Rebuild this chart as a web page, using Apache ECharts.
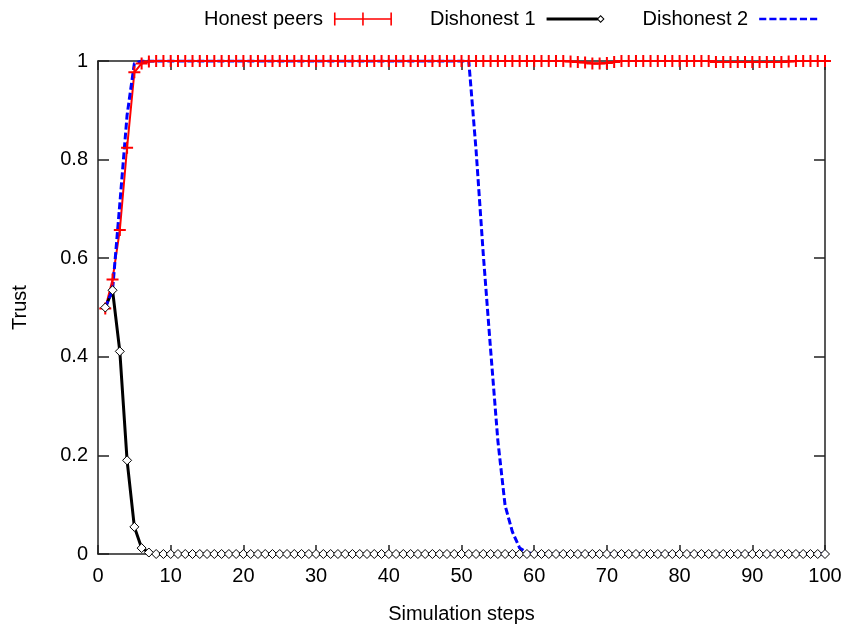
<!DOCTYPE html>
<html>
<head>
    <meta charset="utf-8">
    <title>Trust vs simulation steps</title>
    <script src="https://cdn.jsdelivr.net/npm/echarts@6/dist/echarts.min.js"></script>
    <style>
        body { margin: 0; background: #fff; }
        #main { width: 845px; height: 629px; }
    </style>
</head>
<body>
    <div id="main"></div>

    <script type="text/javascript">
        // trust values per step (step 1 .. 100)
        var honest = [
            0.498, 0.557, 0.657, 0.824, 0.977, 0.995, 0.999, 1, 1, 1,
            1, 1, 1, 1, 1, 1, 1, 1, 1, 1,
            1, 1, 1, 1, 1, 1, 1, 1, 1, 1,
            1, 1, 1, 1, 1, 1, 1, 1, 1, 1,
            1, 1, 1, 1, 1, 1, 1, 1, 1, 1,
            1, 1, 1, 1, 1, 1, 1, 1, 1, 1,
            1, 1, 1, 1, 0.999, 0.998, 0.997, 0.995, 0.995, 0.996,
            0.998, 1, 1, 1, 1, 1, 1, 1, 1, 1,
            1, 1, 1, 1, 0.998, 0.998, 0.998, 0.998, 0.998, 0.998,
            0.998, 0.998, 0.998, 0.998, 0.999, 1, 1, 1, 1, 1
        ];
        var dishonest1 = [
            0.5, 0.535, 0.411, 0.19, 0.055, 0.012, 0.003, 0, 0, 0,
            0, 0, 0, 0, 0, 0, 0, 0, 0, 0,
            0, 0, 0, 0, 0, 0, 0, 0, 0, 0,
            0, 0, 0, 0, 0, 0, 0, 0, 0, 0,
            0, 0, 0, 0, 0, 0, 0, 0, 0, 0,
            0, 0, 0, 0, 0, 0, 0, 0, 0, 0,
            0, 0, 0, 0, 0, 0, 0, 0, 0, 0,
            0, 0, 0, 0, 0, 0, 0, 0, 0, 0,
            0, 0, 0, 0, 0, 0, 0, 0, 0, 0,
            0, 0, 0, 0, 0, 0, 0, 0, 0, 0
        ];
        var dishonest2 = [
            0.5, 0.535, 0.71, 0.89, 0.995, 1, 1, 1, 1, 1,
            1, 1, 1, 1, 1, 1, 1, 1, 1, 1,
            1, 1, 1, 1, 1, 1, 1, 1, 1, 1,
            1, 1, 1, 1, 1, 1, 1, 1, 1, 1,
            1, 1, 1, 1, 1, 1, 1, 1, 1, 1,
            1, 0.82, 0.607, 0.415, 0.23, 0.098, 0.045, 0.012, 0.003, 0,
            0, 0, 0, 0, 0, 0, 0, 0, 0, 0,
            0, 0, 0, 0, 0, 0, 0, 0, 0, 0,
            0, 0, 0, 0, 0, 0, 0, 0, 0, 0,
            0, 0, 0, 0, 0, 0, 0, 0, 0, 0
        ];
        var seriesNames = ['Honest peers', 'Dishonest 1', 'Dishonest 2'];

        // x = step number (1-based)
        function pairs(arr) {
            return arr.map(function (v, i) { return [i + 1, v]; });
        }

        var font = 'Liberation Sans, Arial, sans-serif';
        var borderColor = '#222';

        // gnuplot-like key samples
        var iconHonest = 'path://M0,0H1.6V13H0ZM56.4,0H58V13H56.4ZM28.2,0H29.8V13H28.2ZM0,5.7H58V7.3H0Z';
        var iconDis1 = 'path://M0,2.6H52V5.4H0ZM55,0L59,4L55,8L51,4ZM55,1.5L52.5,4L55,6.5L57.5,4Z';
        var iconDis2 = 'path://M0,0H7V2.6H0ZM10,0H17V2.6H10ZM20,0H27V2.6H20ZM30,0H37V2.6H30ZM40,0H47V2.6H40ZM50,0H57V2.6H50Z';

        function axisStyle() {
            return {
                axisLine: { show: true, onZero: false, lineStyle: { color: borderColor, width: 1.5 } },
                splitLine: { show: false }
            };
        }

        var myChart = echarts.init(document.getElementById('main'));

        myChart.setOption({
            animation: false,
            textStyle: { fontFamily: font },
            legend: {
                top: 4,
                left: 199,
                align: 'right',
                itemWidth: 58,
                itemHeight: 13,
                itemGap: 38,
                textStyle: { fontSize: 20, color: '#000', fontFamily: font, padding: [0, 6, 0, 0] },
                data: [
                    { name: seriesNames[0], icon: iconHonest, itemStyle: { color: '#ff0000', borderWidth: 0 } },
                    { name: seriesNames[1], icon: iconDis1, itemStyle: { color: '#000', borderWidth: 0 } },
                    { name: seriesNames[2], icon: iconDis2, itemStyle: { color: '#0000ff', borderWidth: 0 } }
                ]
            },
            grid: {
                left: 98,
                right: 20,
                top: 61,
                bottom: 74
            },
            xAxis: [
                Object.assign(axisStyle(), {
                    type: 'value',
                    min: 0,
                    max: 100,
                    interval: 10,
                    name: 'Simulation steps',
                    nameLocation: 'middle',
                    nameGap: 50,
                    nameTextStyle: { fontSize: 20, color: '#000' },
                    axisTick: { show: true, inside: true, length: 9, lineStyle: { color: borderColor, width: 1.5 } },
                    axisLabel: { fontSize: 20, color: '#000', margin: 12 }
                }),
                Object.assign(axisStyle(), {
                    type: 'value',
                    position: 'top',
                    min: 0,
                    max: 100,
                    interval: 10,
                    axisTick: { show: true, inside: true, length: 9, lineStyle: { color: borderColor, width: 1.5 } },
                    axisLabel: { show: false }
                })
            ],
            yAxis: [
                Object.assign(axisStyle(), {
                    type: 'value',
                    min: 0,
                    max: 1,
                    interval: 0.2,
                    name: 'Trust',
                    nameLocation: 'middle',
                    nameGap: 68,
                    nameRotate: 90,
                    nameTextStyle: { fontSize: 20, color: '#000' },
                    axisTick: { show: true, inside: true, length: 11, lineStyle: { color: borderColor, width: 1.5 } },
                    axisLabel: { fontSize: 20, color: '#000', margin: 10 }
                }),
                Object.assign(axisStyle(), {
                    type: 'value',
                    position: 'right',
                    min: 0,
                    max: 1,
                    interval: 0.2,
                    axisTick: { show: true, inside: true, length: 11, lineStyle: { color: borderColor, width: 1.5 } },
                    axisLabel: { show: false }
                })
            ],
            series: [
                {
                    name: seriesNames[0],
                    type: 'line',
                    data: pairs(honest),
                    symbol: 'path://M0,5H12V7H0ZM5,0H7V12H5Z',
                    symbolSize: 12,
                    showAllSymbol: true,
                    color: '#ff0000',
                    itemStyle: { color: '#ff0000' },
                    lineStyle: { color: '#ff0000', width: 2 }
                },
                {
                    name: seriesNames[1],
                    type: 'line',
                    data: pairs(dishonest1),
                    symbol: 'diamond',
                    symbolSize: 9,
                    showAllSymbol: true,
                    color: '#000',
                    itemStyle: { color: '#fff', borderColor: '#000', borderWidth: 1 },
                    lineStyle: { color: '#000', width: 3 }
                },
                {
                    name: seriesNames[2],
                    type: 'line',
                    data: pairs(dishonest2),
                    symbol: 'none',
                    color: '#0000ff',
                    lineStyle: { color: '#0000ff', width: 3, type: [7, 3] }
                }
            ]
        });
    </script>
</body>
</html>
